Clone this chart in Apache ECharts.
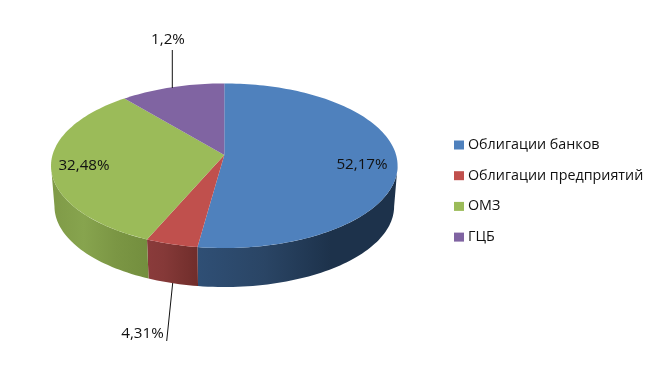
<!DOCTYPE html>
<html>
<head>
<meta charset="utf-8">
<script src="https://cdn.jsdelivr.net/npm/echarts@6/dist/echarts.min.js"></script>
<style>html,body{margin:0;padding:0;background:#fff}#c{width:662px;height:382px}</style>
</head>
<body>
<div id="c"></div>
<script>
const categories = ['Облигации банков', 'Облигации предприятий', 'ОМЗ', 'ГЦБ'];
const shares = [52.17, 4.31, 32.48, 11.04];
const sliceLabels = ['52,17%', '4,31%', '32,48%', '1,2%'];

const topColors = ['#4f81bd', '#c0504d', '#9bbb59', '#8064a2'];
const wallColors = [
  ['#2f4f75', '#2a4565', '#1d324b', '#1d324b'],
  ['#8a3b3b', '#853938', '#7a3331', '#702d2b'],
  ['#7f9a47', '#87a44e', '#7b9644', '#738e3e'],
  ['#5f4a78', '#5f4a78', '#5f4a78', '#5f4a78']
];
const labelLayout = [
  {x: 362, y: 165},
  {x: 142.5, y: 334, line: [[172.7, 283], [166.7, 341]]},
  {x: 84, y: 165.5},
  {x: 168, y: 40, line: [[172.3, 50], [172.3, 88]]}
];
const PERSP = 0.1304, BOTTOM_SCALE = 0.98, BOTTOM_DROP = 0.505;
const VIS_FROM = 97.5, VIS_TO = 262.5;
const total = shares.reduce((a, b) => a + b, 0);

function project(deg, bottom) {
  const a = deg * Math.PI / 180;
  const u = Math.sin(a), v = -Math.cos(a);
  const d = 1 - PERSP * v;
  let X = u / d, Y = v / d;
  if (bottom) { X *= BOTTOM_SCALE; Y = Y * BOTTOM_SCALE + BOTTOM_DROP; }
  return [X, Y];
}
function arc(from, to, bottom) {
  const pts = [], n = Math.max(2, Math.ceil(Math.abs(to - from) / 1.5));
  for (let i = 0; i <= n; i++) pts.push(project(from + (to - from) * i / n, bottom));
  return pts;
}

function renderSlice(idx) {
  return function (params, api) {
    const start = api.value(0), end = api.value(1);
    const toPx = p => api.coord(p);
    const children = [];
    const w0 = Math.max(start, VIS_FROM), w1 = Math.min(end, VIS_TO);
    if (w1 > w0) {
      const pts = arc(w0, w1, false).concat(arc(w1, w0, true)).map(toPx);
      const stops = wallColors[idx];
      children.push({
        type: 'polygon',
        shape: {points: pts},
        style: {
          fill: new echarts.graphic.LinearGradient(0, 0, 1, 0, stops.map((c, i) => ({offset: i / (stops.length - 1), color: c}))),
          stroke: null
        }
      });
    }
    children.push({
      type: 'polygon',
      shape: {points: [[0, 0]].concat(arc(start, end, false)).map(toPx)},
      style: {fill: topColors[idx], stroke: null}
    });
    const lay = labelLayout[idx];
    if (lay.line) {
      children.push({type: 'polyline', shape: {points: lay.line}, style: {stroke: '#111', lineWidth: 1, fill: null}, z2: 10});
    }
    children.push({
      type: 'text', x: lay.x, y: lay.y, z2: 11,
      style: {
        text: sliceLabels[idx], fill: '#111', align: 'center', verticalAlign: 'middle',
        font: '15.2px "Open Sans", sans-serif'
      }
    });
    return {type: 'group', children};
  };
}

let acc = 0;
const series = categories.map((name, i) => {
  const start = acc / total * 360;
  acc += shares[i];
  const end = acc / total * 360;
  return {
    type: 'custom', name, coordinateSystem: 'cartesian2d', clip: false, silent: true,
    itemStyle: {color: topColors[i]},
    renderItem: renderSlice(i),
    encode: {x: 0, y: 1},
    data: [[start, end]]
  };
});

const chart = echarts.init(document.getElementById('c'), null, {renderer: 'canvas'});
chart.setOption({
  animation: false,
  backgroundColor: '#fff',
  grid: {left: 52.5, top: 74.1, width: 343.6, height: 161.8},
  xAxis: {type: 'value', min: -1, max: 1, show: false},
  yAxis: {type: 'value', min: -1, max: 1, inverse: true, show: false},
  legend: {
    orient: 'vertical', left: 449, top: 132, icon: 'rect',
    itemWidth: 10, itemHeight: 9, itemGap: 14.7,
    data: categories,
    selectedMode: false,
    textStyle: {color: '#111', fontFamily: '"Open Sans", sans-serif', fontSize: 14.3, lineHeight: 16, padding: [0, 0, 0, -1]}
  },
  series
});
</script>
</body>
</html>
